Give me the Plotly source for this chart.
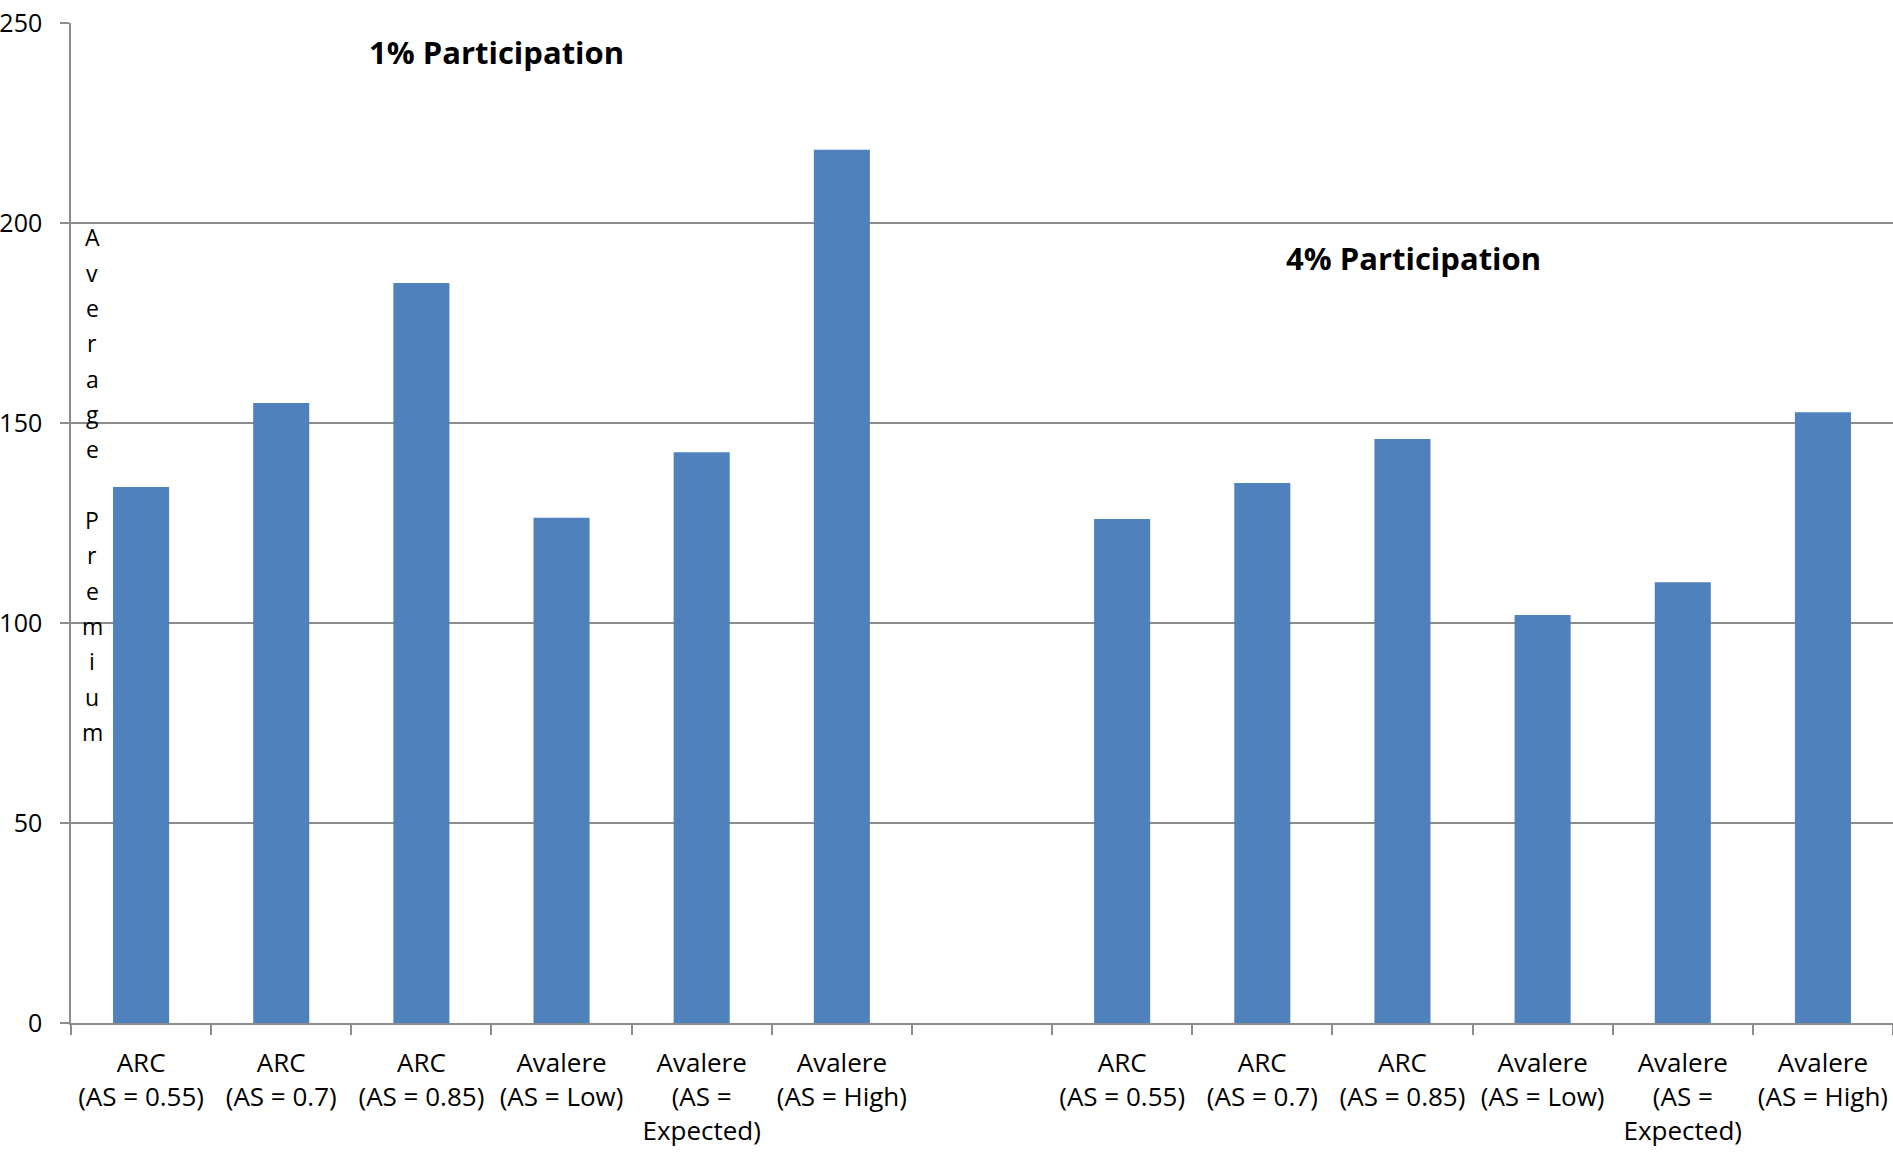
import plotly.graph_objects as go

# ---- data ----
labels = [
    "ARC<br>(AS = 0.55)",
    "ARC<br>(AS = 0.7)",
    "ARC<br>(AS = 0.85)",
    "Avalere<br>(AS = Low)",
    "Avalere<br>(AS =<br>Expected)",
    "Avalere<br>(AS = High)",
]
premium_1pct = [134.0, 155.0, 185.0, 126.3, 142.7, 218.3]
premium_4pct = [126.0, 135.0, 146.0, 102.0, 110.2, 152.7]
group_titles = ["1% Participation", "4% Participation"]
y_title = "Average Premium"
y_ticks = [0, 50, 100, 150, 200, 250]

# category slots: group 1, one blank slot, group 2
n = len(labels)
gap = 1
x1 = list(range(n))
x2 = [i + n + gap for i in range(n)]
n_slots = 2 * n + gap

BAR = "#4F81BD"
GRID = "#8c8c8c"
FONT = "Open Sans"

fig = go.Figure()
fig.add_trace(go.Bar(x=x1 + x2, y=premium_1pct + premium_4pct,
                     width=0.4, marker=dict(color=BAR, line=dict(width=0)),
                     showlegend=False, hoverinfo="y"))

fig.update_layout(
    width=1893, height=1153,
    margin=dict(l=71, r=0, t=23, b=130, autoexpand=False),
    paper_bgcolor="white", plot_bgcolor="white",
    font=dict(family=FONT, size=26, color="black"),
    bargap=0.6,
)

fig.update_xaxes(
    automargin=False,
    range=[-0.5, n_slots - 0.5],
    tickmode="array", tickvals=x1 + x2, ticktext=labels + labels,
    ticks="", ticklabelstandoff=16,
    showline=True, linecolor=GRID, linewidth=1.5,
    showgrid=False, zeroline=False,
    tickfont=dict(family=FONT, size=26, color="black"),
    minor=dict(ticks="outside", ticklen=10, tickcolor=GRID, tickwidth=1.5,
               tickmode="array", tickvals=[i - 0.5 for i in range(n_slots + 1)],
               showgrid=False),
)
fig.update_yaxes(
    automargin=False,
    range=[0, 250], tickmode="array", tickvals=y_ticks,
    ticks="outside", ticklen=9, tickcolor=GRID, tickwidth=1.5,
    ticklabelstandoff=13,
    showline=True, linecolor=GRID, linewidth=1.5,
    showgrid=True, gridcolor=GRID, gridwidth=1.5,
    zeroline=False,
    tickfont=dict(family=FONT, size=25, color="black"),
)

# group titles
fig.add_annotation(text="<b>" + group_titles[0] + "</b>", xref="paper", yref="y",
                   x=0.2333, y=242.8, showarrow=False, xanchor="center", yanchor="middle",
                   font=dict(family=FONT, size=31, color="black"))
fig.add_annotation(text="<b>" + group_titles[1] + "</b>", xref="paper", yref="y",
                   x=0.7366, y=191.3, showarrow=False, xanchor="center", yanchor="middle",
                   font=dict(family=FONT, size=31, color="black"))

# stacked vertical axis title, one letter per line
top_y = 196.4
step = 8.83
for i, ch in enumerate(y_title):
    if ch == " ":
        continue
    fig.add_annotation(text=ch, xref="paper", yref="y", x=0.0118, y=top_y - step * i,
                       showarrow=False, xanchor="center", yanchor="middle",
                       font=dict(family=FONT, size=23, color="black"))

fig.write_html("out.html", config={"displayModeBar": False},
               post_script="document.body.style.margin='0px';")
